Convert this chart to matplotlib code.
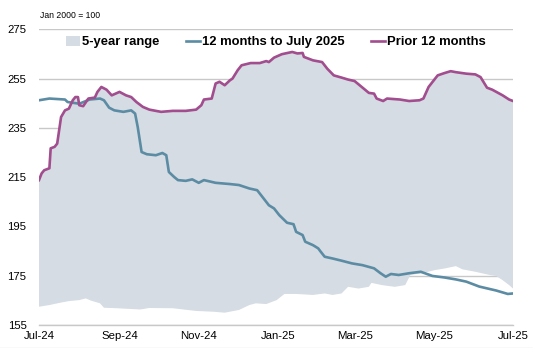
import matplotlib
matplotlib.use("Agg")
import matplotlib.pyplot as plt
import matplotlib.dates as mdates
import pandas as pd
from matplotlib.patches import Patch
from matplotlib.lines import Line2D

plt.rcParams['font.family'] = ['Liberation Sans', 'DejaVu Sans']

# Prior 12 months (also top of 5-year range)
prior_dates = ["2024-07-01","2024-07-03","2024-07-05","2024-07-09","2024-07-10","2024-07-13","2024-07-15",
               "2024-07-18","2024-07-21","2024-07-24","2024-07-27","2024-07-29","2024-07-31","2024-08-01",
               "2024-08-04","2024-08-08","2024-08-13","2024-08-15","2024-08-18","2024-08-22","2024-08-26",
               "2024-09-01","2024-09-06","2024-09-10","2024-09-14","2024-09-19","2024-09-24","2024-10-03",
               "2024-10-12","2024-10-22","2024-10-30","2024-11-03","2024-11-05","2024-11-11","2024-11-14",
               "2024-11-17","2024-11-21","2024-11-25","2024-11-27","2024-12-01","2024-12-04","2024-12-11",
               "2024-12-18","2024-12-23","2024-12-25","2024-12-29","2025-01-04","2025-01-12","2025-01-16",
               "2025-01-20","2025-01-21","2025-01-28","2025-02-04","2025-02-08","2025-02-13","2025-02-19",
               "2025-02-24","2025-03-01","2025-03-04","2025-03-12","2025-03-16","2025-03-18","2025-03-23",
               "2025-03-26","2025-04-05","2025-04-12","2025-04-20","2025-04-23","2025-04-27","2025-05-04",
               "2025-05-09","2025-05-14","2025-05-18","2025-05-26","2025-06-02","2025-06-06","2025-06-11",
               "2025-06-15","2025-06-23","2025-06-28","2025-07-01"]
prior_vals = [213.8,216.5,217.8,218.6,226.7,227.3,228.6,
              239.4,242.1,242.8,246.2,247.5,247.5,244.2,
              243.8,246.9,247.3,249.6,251.6,250.5,248.2,
              249.6,248.2,247.5,245.5,243.5,242.4,241.5,
              241.9,241.9,242.4,244.2,246.5,246.9,253.0,
              253.7,252.3,254.3,255.0,258.4,260.4,261.3,
              261.3,262.1,261.7,263.5,264.9,265.8,265.2,
              265.4,263.8,262.4,261.7,259.0,256.3,255.4,
              254.6,254.0,252.7,249.2,248.9,246.9,245.9,
              246.9,246.5,245.9,246.2,246.9,251.6,256.3,
              257.2,258.0,257.6,257.0,256.7,255.6,251.3,
              250.5,248.2,246.5,245.9]

# 12 months to July 2025
cur_dates = ["2024-07-01","2024-07-09","2024-07-21","2024-07-23","2024-08-01","2024-08-09","2024-08-17",
             "2024-08-20","2024-08-24","2024-08-28","2024-09-04","2024-09-10","2024-09-13","2024-09-15",
             "2024-09-18","2024-09-22","2024-09-29","2024-10-04","2024-10-07","2024-10-09","2024-10-13",
             "2024-10-16","2024-10-22","2024-10-27","2024-11-01","2024-11-05","2024-11-14","2024-11-25",
             "2024-12-02","2024-12-10","2024-12-16","2024-12-20","2024-12-25","2024-12-29","2025-01-02",
             "2025-01-08","2025-01-13","2025-01-15","2025-01-20","2025-01-22","2025-01-28","2025-02-01",
             "2025-02-03","2025-02-06","2025-02-12","2025-02-19","2025-02-27","2025-03-07","2025-03-16",
             "2025-03-21","2025-03-25","2025-03-29","2025-04-04","2025-04-12","2025-04-21","2025-04-30",
             "2025-05-09","2025-05-18","2025-05-26","2025-06-05","2025-06-18","2025-06-27","2025-07-01"]
cur_vals = [246.2,246.9,246.5,245.5,244.8,246.5,246.9,
            246.2,243.2,242.1,241.5,242.1,240.8,235.4,
            225.2,224.3,223.9,224.8,223.9,217.1,215.1,
            213.8,213.5,214.1,212.7,213.8,212.7,212.2,
            211.8,210.4,209.7,207.0,203.6,202.3,199.6,
            196.5,195.9,192.8,191.5,188.8,187.4,186.1,
            184.7,182.7,182.0,181.1,180.0,179.3,178.0,
            176.0,174.6,175.7,175.3,176.0,176.6,174.9,
            174.3,173.5,172.6,170.6,169.0,167.6,167.8]

# Bottom of 5-year range
low_dates = ["2024-07-01","2024-07-09","2024-07-17","2024-07-24","2024-08-01","2024-08-06","2024-08-10",
             "2024-08-17","2024-08-20","2024-08-30","2024-09-17","2024-09-24","2024-10-12","2024-10-30",
             "2024-11-12","2024-11-21","2024-12-02","2024-12-10","2024-12-15","2024-12-23","2024-12-31",
             "2025-01-06","2025-01-15","2025-01-28","2025-02-06","2025-02-12","2025-02-19","2025-02-24",
             "2025-03-04","2025-03-12","2025-03-14","2025-03-22","2025-04-01","2025-04-09","2025-04-13",
             "2025-04-22","2025-05-02","2025-05-10","2025-05-18","2025-05-23","2025-06-02","2025-06-13",
             "2025-06-18","2025-06-23","2025-06-28","2025-07-01"]
low_vals = [162.4,163.1,164.0,164.7,165.1,165.8,164.9,
            163.8,162.0,161.8,161.3,161.9,161.8,160.7,
            160.4,160.0,161.1,163.1,163.8,163.5,165.1,
            167.6,167.6,167.2,167.8,167.2,167.8,170.5,
            169.8,170.5,172.1,171.2,170.5,171.2,175.3,
            176.0,177.3,178.0,178.9,177.6,176.6,175.3,
            174.9,173.2,171.2,169.8]

y_ticks = [155, 175, 195, 215, 235, 255, 275]
x_tick_dates = ["2024-07-01","2024-09-01","2024-11-01","2025-01-01","2025-03-01","2025-05-01","2025-07-01"]

GRAY = "#D5DCE4"
TEAL = "#5B8CA3"
PURPLE = "#A14D8E"

pd_prior = pd.to_datetime(prior_dates)
pd_cur = pd.to_datetime(cur_dates)
pd_low = pd.to_datetime(low_dates)

fig = plt.figure(figsize=(5.33, 3.48), dpi=100)
ax = fig.add_axes([39/533, 1-325/348, (513-39)/533, (325-29.3)/348])

poly_x = list(pd_prior) + list(pd_low[::-1])
poly_y = list(prior_vals) + list(low_vals[::-1])
ax.fill(poly_x, poly_y, color=GRAY, lw=0, zorder=2)
ax.plot(pd_cur, cur_vals, color=TEAL, lw=1.9, zorder=3)
ax.plot(pd_prior, prior_vals, color=PURPLE, lw=1.9, zorder=4)

ax.set_ylim(155, 275)
ax.set_yticks(y_ticks)
ax.set_xlim(pd.Timestamp("2024-07-01"), pd.Timestamp("2025-07-01"))
ax.set_xticks(pd.to_datetime(x_tick_dates))
ax.xaxis.set_major_formatter(mdates.DateFormatter("%b-%y"))
ax.grid(axis='y', color="#C8C8C8", lw=1.0, zorder=1)
ax.set_axisbelow(True)
for s in ["top", "right", "left"]:
    ax.spines[s].set_visible(False)
ax.spines["bottom"].set_color("#C8C8C8")
ax.spines["bottom"].set_linewidth(1.0)
ax.tick_params(axis='both', length=0, labelsize=8.2, colors="black")
ax.tick_params(axis='y', pad=9)
ax.tick_params(axis='x', pad=4)

fig.text(40/533, 1-15/348, "Jan 2000 = 100", fontsize=6.2, va='center', ha='left')

# faint frame line at the bottom of the image
fig.add_artist(Line2D([0, 1], [0.5/348, 0.5/348], transform=fig.transFigure,
                      color="#E4E4E4", lw=1.0))

handles = [Patch(facecolor=GRAY, edgecolor='none'),
           Line2D([0], [0], color=TEAL, lw=1.9),
           Line2D([0], [0], color=PURPLE, lw=1.9)]
labels = ["5-year range", "12 months to July 2025", "Prior 12 months"]
ax.legend(handles, labels, loc='upper center', bbox_to_anchor=(0.5, 1.0), ncol=3,
          frameon=False, prop={'weight': 'bold', 'size': 9.4}, handlelength=1.1,
          handletextpad=0.15, columnspacing=2.0, borderaxespad=0.1, handleheight=0.8)

fig.savefig("out.png", dpi=100)
